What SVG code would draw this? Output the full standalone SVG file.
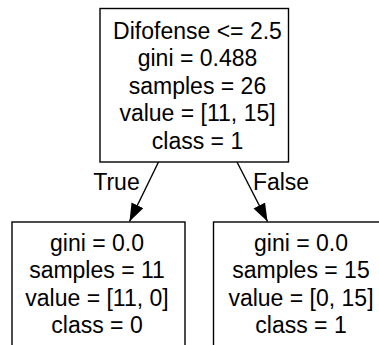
<svg xmlns="http://www.w3.org/2000/svg" width="379" height="345" viewBox="0 0 379 345">
<defs>
<style>
.box{fill:#fff;stroke:#000;stroke-width:1.4}
.t{font-family:"Liberation Sans",Arial,Helvetica,sans-serif;font-size:23px;fill:#000;text-anchor:middle}
.e{stroke:#000;stroke-width:1.4;fill:none}
</style>
<marker id="ah" markerUnits="userSpaceOnUse" markerWidth="19" markerHeight="14" refX="18" refY="6.5" orient="auto">
<path d="M0,0 L18,6.5 L0,13 z" fill="#000"/>
</marker>
</defs>
<rect width="379" height="345" fill="#fff"/>
<g id="edges">
<line class="e" x1="158.5" y1="162" x2="129.5" y2="221.5" marker-end="url(#ah)"/>
<line class="e" x1="237" y1="162" x2="267.5" y2="221.5" marker-end="url(#ah)"/>
<text class="t" x="116.5" y="190">True</text>
<text class="t" x="281" y="190">False</text>
</g>
<g id="root">
<rect class="box" x="100" y="8.5" width="188.5" height="153.5"/>
<text class="t" x="197.5" y="38.5">Difofense &lt;= 2.5</text>
<text class="t" x="197.5" y="66">gini = 0.488</text>
<text class="t" x="197.5" y="93.5">samples = 26</text>
<text class="t" x="197.5" y="121">value = [11, 15]</text>
<text class="t" x="197.5" y="148.5">class = 1</text>
</g>
<g id="left">
<rect class="box" x="12" y="222" width="173" height="140"/>
<text class="t" x="97" y="250.5">gini = 0.0</text>
<text class="t" x="97" y="278">samples = 11</text>
<text class="t" x="97" y="305.5">value = [11, 0]</text>
<text class="t" x="97" y="333">class = 0</text>
</g>
<g id="right">
<rect class="box" x="213.5" y="222" width="180" height="140"/>
<text class="t" x="301" y="250.5">gini = 0.0</text>
<text class="t" x="301" y="278">samples = 15</text>
<text class="t" x="301" y="305.5">value = [0, 15]</text>
<text class="t" x="301" y="333">class = 1</text>
</g>
</svg>
